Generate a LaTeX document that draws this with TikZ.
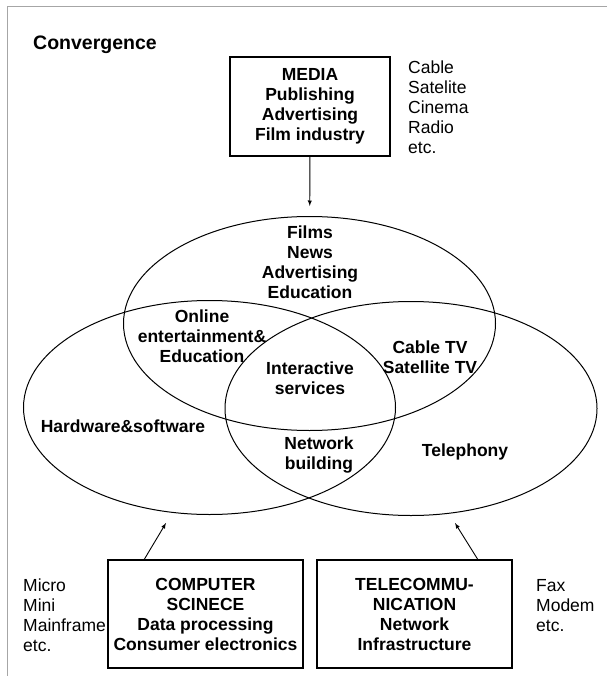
\documentclass[tikz,border=0pt]{standalone}
\usepackage{fontspec}
\setmainfont{Liberation Sans}
\usetikzlibrary{shapes.geometric}

\begin{document}
\begin{tikzpicture}[x=1pt, y=-1pt,
    txt/.style={inner sep=0pt, align=center, font=\bfseries\fontsize{17.5}{20}\selectfont},
    side/.style={inner sep=0pt, align=left, anchor=west, font=\fontsize{17.5}{20}\selectfont},
    box/.style={draw, line width=1.4pt, txt, minimum width=195pt, minimum height=108pt},
    set/.style={draw, ellipse, line width=1pt, minimum width=372pt, minimum height=214pt, inner sep=0pt}]
    \useasboundingbox (0,0) rectangle (607,676);

    % 边框
    \draw[gray!70, line width=1pt] (607,6.5) -- (7,6.5) -- (7,676);

    \node[txt, anchor=west, font=\bfseries\fontsize{19.5}{22}\selectfont] (title) at (33,45) {Convergence};

    % 三个集合
    \node[set] (mediaset) at (309.5,323.5) {};
    \node[set] (compset) at (209.5,407.5) {};
    \node[set] (telset) at (411,408.5) {};

    % 方框
    \node[box, minimum width=160pt, minimum height=99pt] (media) at (310,106.5) {MEDIA\\Publishing\\Advertising\\Film industry};
    \node[box] (comp) at (205.5,614) {COMPUTER\\SCINECE\\Data processing\\Consumer electronics};
    \node[box] (tel) at (414.5,614) {TELECOMMU-\\NICATION\\Network\\Infrastructure};

    % 旁边的文字
    \node[side] (mediaside) at (408,107) {Cable\\Satelite\\Cinema\\Radio\\etc.};
    \node[side] (compside) at (23,615) {Micro\\Mini\\Mainframe\\etc.};
    \node[side] (telside) at (536,606) {Fax\\Modem\\etc.};

    % 集合里的文字
    \node[txt] (films) at (310,262) {Films\\News\\Advertising\\Education};
    \node[txt] (online) at (202,336) {Online\\entertainment\&\\Education};
    \node[txt] (inter) at (310,378) {Interactive\\services};
    \node[txt] (cabletv) at (430,357) {Cable TV\\Satellite TV};
    \node[txt] (hard) at (123,426) {Hardware\&software};
    \node[txt] (netb) at (319,455) {Network\\building};
    \node[txt] (phone) at (465,452) {Telephony};

    % 箭头
    \coordinate (comptip) at (166,523);
    \coordinate (teltip) at (455,523);
    \draw[-latex, line width=0.9pt, shorten >=10pt] (media) -- (mediaset);
    \draw[-latex, line width=0.9pt] ([xshift=37pt]comp.north west) -- (comptip);
    \draw[-latex, line width=0.9pt] ([xshift=-35pt]tel.north east) -- (teltip);
\end{tikzpicture}
\end{document}
